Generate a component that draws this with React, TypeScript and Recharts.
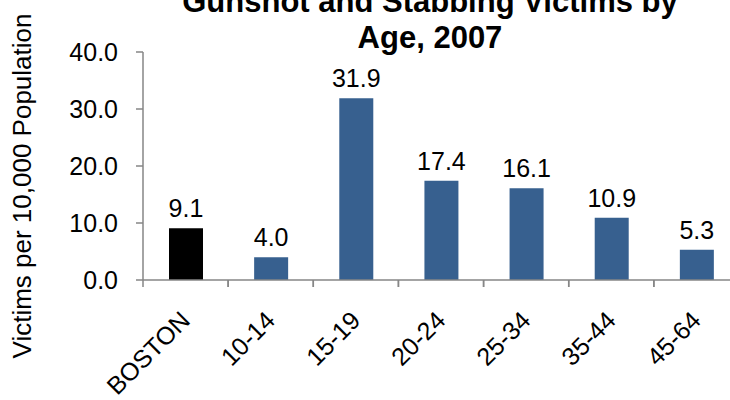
import { Bar, BarChart, Cell, LabelList, XAxis, YAxis } from "recharts";

const groups = ["BOSTON", "10-14", "15-19", "20-24", "25-34", "35-44", "45-64"];
const rates = [9.1, 4.0, 31.9, 17.4, 16.1, 10.9, 5.3];
const yTicks = [0, 10, 20, 30, 40];

const FONT = "'Liberation Sans', Arial, sans-serif";
const AXIS = "#868686";
const BLUE = "#37608F";

const data = groups.map((g, i) => ({ group: g, rate: rates[i] }));

function GroupTick(props: any) {
  const { x, y, payload } = props;
  const half = payload && payload.offset ? payload.offset : 0;
  return (
    <g>
      <line x1={x - half} y1={y} x2={x - half} y2={y + 7} stroke={AXIS} strokeWidth={1.5} />
      <line x1={x + half} y1={y} x2={x + half} y2={y + 7} stroke={AXIS} strokeWidth={1.5} />
      <text
        x={x + 6}
        y={y + 42}
        transform={`rotate(-45, ${x + 6}, ${y + 42})`}
        textAnchor="end"
        fontSize={25}
        fontFamily={FONT}
        fill="#000"
      >
        {payload.value}
      </text>
    </g>
  );
}

export default function App() {
  return (
    <div style={{ position: "absolute", left: 0, top: 0, width: 730, height: 400, overflow: "hidden", background: "#fff" }}>
      <BarChart
        width={745}
        height={400}
        data={data}
        margin={{ top: 52, right: 6, bottom: 0, left: 0 }}
        barSize={34}
      >
        <XAxis
          dataKey="group"
          height={120}
          stroke={AXIS}
          strokeWidth={1.5}
          tickLine={false}
          tickSize={0}
          tickMargin={0}
          interval={0}
          tick={<GroupTick />}
        />
        <YAxis
          width={143}
          domain={[0, 40]}
          ticks={yTicks}
          tickFormatter={(v: number) => v.toFixed(1)}
          stroke={AXIS}
          strokeWidth={1.5}
          tickSize={7}
          tickMargin={18}
          tick={{ fill: "#000", fontSize: 25, fontFamily: FONT }}
        />
        <Bar dataKey="rate" isAnimationActive={false}>
          {data.map((d, i) => (
            <Cell key={d.group} fill={i === 0 ? "#000000" : BLUE} />
          ))}
          <LabelList
            dataKey="rate"
            position="top"
            offset={11}
            formatter={(v: any) => Number(v).toFixed(1)}
            style={{ fill: "#000", fontSize: 25, fontFamily: FONT }}
          />
        </Bar>
      </BarChart>
      <svg width={730} height={400} style={{ position: "absolute", left: 0, top: 0, pointerEvents: "none" }}>
        <text x={430} y={12} textAnchor="middle" fontSize={31} fontWeight="bold" fontFamily={FONT} fill="#000">
          Gunshot and Stabbing Victims by
        </text>
        <text x={430} y={48} textAnchor="middle" fontSize={31} fontWeight="bold" fontFamily={FONT} fill="#000">
          Age, 2007
        </text>
        <text transform="translate(31, 186) rotate(-90)" textAnchor="middle" fontSize={26} fontFamily={FONT} fill="#000">
          Victims per 10,000 Population
        </text>
      </svg>
    </div>
  );
}
